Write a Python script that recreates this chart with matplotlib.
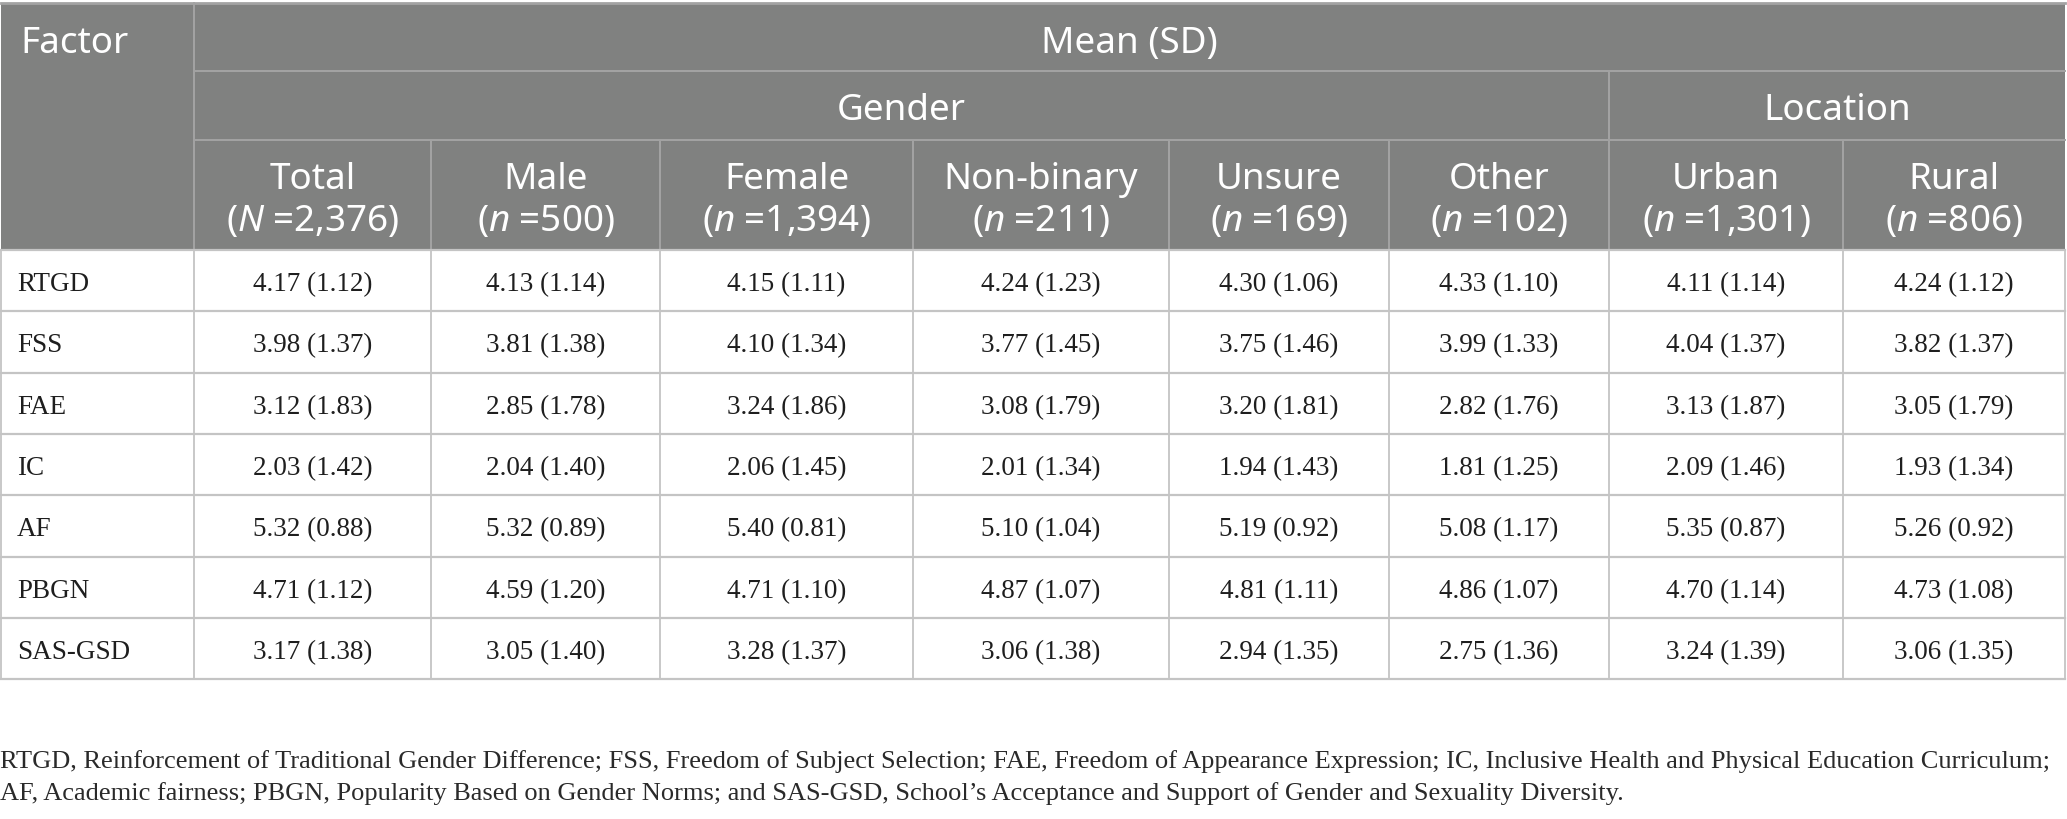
import matplotlib
matplotlib.use("Agg")
import matplotlib.pyplot as plt
from matplotlib.patches import Rectangle

# table data
factors = ["RTGD", "FSS", "FAE", "IC", "AF", "PBGN", "SAS-GSD"]
groups = ["Total", "Male", "Female", "Non-binary", "Unsure", "Other", "Urban", "Rural"]
group_n = ["($N$ =2,376)", "($n$ =500)", "($n$ =1,394)", "($n$ =211)",
           "($n$ =169)", "($n$ =102)", "($n$ =1,301)", "($n$ =806)"]
means = [
    [4.17, 4.13, 4.15, 4.24, 4.30, 4.33, 4.11, 4.24],
    [3.98, 3.81, 4.10, 3.77, 3.75, 3.99, 4.04, 3.82],
    [3.12, 2.85, 3.24, 3.08, 3.20, 2.82, 3.13, 3.05],
    [2.03, 2.04, 2.06, 2.01, 1.94, 1.81, 2.09, 1.93],
    [5.32, 5.32, 5.40, 5.10, 5.19, 5.08, 5.35, 5.26],
    [4.71, 4.59, 4.71, 4.87, 4.81, 4.86, 4.70, 4.73],
    [3.17, 3.05, 3.28, 3.06, 2.94, 2.75, 3.24, 3.06],
]
sds = [
    [1.12, 1.14, 1.11, 1.23, 1.06, 1.10, 1.14, 1.12],
    [1.37, 1.38, 1.34, 1.45, 1.46, 1.33, 1.37, 1.37],
    [1.83, 1.78, 1.86, 1.79, 1.81, 1.76, 1.87, 1.79],
    [1.42, 1.40, 1.45, 1.34, 1.43, 1.25, 1.46, 1.34],
    [0.88, 0.89, 0.81, 1.04, 0.92, 1.17, 0.87, 0.92],
    [1.12, 1.20, 1.10, 1.07, 1.11, 1.07, 1.14, 1.08],
    [1.38, 1.40, 1.37, 1.38, 1.35, 1.36, 1.39, 1.35],
]
caption = ["RTGD, Reinforcement of Traditional Gender Difference; FSS, Freedom of Subject Selection; "
           "FAE, Freedom of Appearance Expression; IC, Inclusive Health and Physical Education Curriculum;",
           "AF, Academic fairness; PBGN, Popularity Based on Gender Norms; and SAS-GSD, "
           "School\u2019s Acceptance and Support of Gender and Sexuality Diversity."]

# layout (pixels)
col_edges = [1, 194, 431, 660, 913, 1169, 1389, 1609, 1843, 2065]
hdr_edges = [4, 72, 141, 251]
row_h = 61.3
HEAD = "#808180"
HEAD_LINE = "#a3a3a3"
GRID = "#c4c4c4"

plt.rcParams["mathtext.fontset"] = "custom"
plt.rcParams["mathtext.rm"] = "Noto Sans"
plt.rcParams["mathtext.it"] = "Noto Sans:italic"

fig = plt.figure(figsize=(20.67, 8.2), dpi=100)
ax = fig.add_axes([0, 0, 1, 1])
ax.set_xlim(0, 2067)
ax.set_ylim(820, 0)
ax.axis("off")

hfont = dict(family="Noto Sans", size=26.5, color="white")
bfont = dict(family="Liberation Serif", size=19.5, color="#1e1e1e")

x0, x1 = col_edges[0], col_edges[-1]
top, hbot = hdr_edges[0], hdr_edges[-1]
ax.add_patch(Rectangle((x0, top), x1 - x0, hbot - top, color=HEAD, lw=0))

# header lines
ax.plot([x0, x1], [top, top], color=HEAD_LINE, lw=2)
ax.plot([col_edges[1], x1], [hdr_edges[1]] * 2, color=HEAD_LINE, lw=1.4)
ax.plot([col_edges[1], x1], [hdr_edges[2]] * 2, color=HEAD_LINE, lw=1.4)
ax.plot([col_edges[1]] * 2, [top, hbot], color=HEAD_LINE, lw=1.4)
ax.plot([col_edges[7]] * 2, [hdr_edges[1], hbot], color=HEAD_LINE, lw=1.4)
for xe in col_edges[2:-1]:
    ax.plot([xe, xe], [hdr_edges[2], hbot], color=HEAD_LINE, lw=1.4)

ax.text(x0 + 19, 44, "Factor", ha="left", va="center", **hfont)
ax.text((col_edges[1] + x1) / 2, 44, "Mean (SD)", ha="center", va="center", **hfont)
ax.text((col_edges[1] + col_edges[7]) / 2, 111, "Gender", ha="center", va="center", **hfont)
ax.text((col_edges[7] + x1) / 2, 111, "Location", ha="center", va="center", **hfont)
for j, (g, n) in enumerate(zip(groups, group_n)):
    cx = (col_edges[j + 1] + col_edges[j + 2]) / 2
    ax.text(cx, 180, g, ha="center", va="center", **hfont)
    ax.text(cx, 222, n, ha="center", va="center", **hfont)

# body
nrows = len(factors)
bottom = hbot + nrows * row_h
for i in range(nrows + 1):
    y = hbot + i * row_h
    ax.plot([x0, x1], [y, y], color=GRID, lw=1.6)
for xe in col_edges:
    ax.plot([xe, xe], [hbot, bottom], color=GRID, lw=1.3)

for i, f in enumerate(factors):
    cy = hbot + (i + 0.5) * row_h + 3
    ax.text(x0 + 16, cy, f, ha="left", va="center", **bfont)
    for j in range(len(groups)):
        cx = (col_edges[j + 1] + col_edges[j + 2]) / 2
        ax.text(cx, cy, f"{means[i][j]:.2f} ({sds[i][j]:.2f})",
                ha="center", va="center", **bfont)

# footnote
for k, line in enumerate(caption):
    ax.text(0, 768 + k * 32, line, ha="left", va="baseline",
            family="Liberation Serif", size=19, color="#2a2a2a")

fig.savefig("out.png", dpi=100)
